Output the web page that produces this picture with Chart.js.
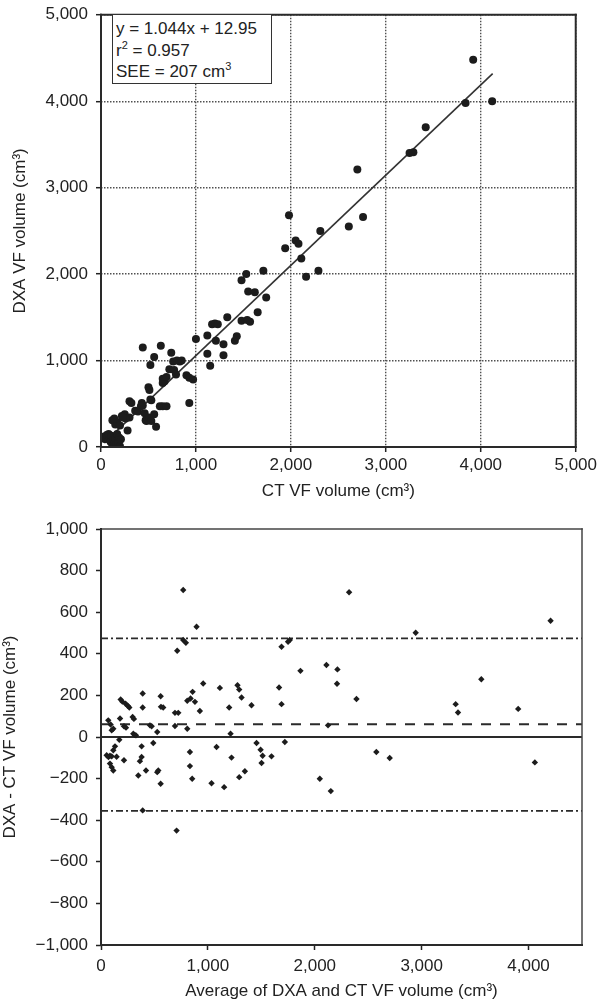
<!DOCTYPE html>
<html>
<head>
<meta charset="utf-8">
<script src="https://cdn.jsdelivr.net/npm/chart.js@4.4.1/dist/chart.umd.min.js"></script>
<style>
  html, body { margin: 0; padding: 0; background: #fff; }
  body { width: 600px; height: 1003px; position: relative; overflow: hidden; font-family: "Liberation Sans", Arial, sans-serif; }
  canvas { position: absolute; left: 0; }
  #top { top: 0; }
  #bottom { top: 500px; }
  #stats {
    position: absolute; left: 112px; top: 14px; width: 160px; height: 70px;
    box-sizing: border-box; border: 1.5px solid #333; background: #fff;
    font-size: 17px; line-height: 21.5px; color: #222; padding: 3px 0 0 3px;
  }
  #stats sup { font-size: 11px; line-height: 0; vertical-align: 7px; }
</style>
</head>
<body>
<canvas id="top" width="600" height="500"></canvas>
<canvas id="bottom" width="600" height="503"></canvas>
<div id="stats">y = 1.044x + 12.95<br>r<sup>2</sup> = 0.957<br>SEE = 207 cm<sup>3</sup></div>
<script>
// top panel: CT vs DXA visceral fat volume (cm3)
const ctVolume = [
  20, 40, 60, 80, 100, 110, 120, 130, 140, 150, 160, 170, 180, 190, 200, 210,
  120, 150, 170, 140, 200, 220, 250, 280, 300, 260, 230,
  300, 320, 360, 390, 420, 430, 440, 460, 470, 480, 510, 530, 560, 580, 500, 510, 530, 520,
  620, 650, 690, 440, 560, 630, 520, 650, 670, 650, 690,
  720, 770, 790, 740, 760, 800, 830, 850, 900, 930, 970, 930, 1000,
  1120, 1120, 1150, 1170, 1200, 1230, 1210, 1290, 1290, 1330, 1410, 1430, 1480, 1530,
  1480, 1540, 1570, 1550, 1620, 1650, 1710, 1740,
  1940, 1980, 2050, 2080, 2110, 2160, 2290, 2310, 2610, 2700, 2760, 3250, 3290, 3420,
  3840, 3920, 4120
];
const dxaVolume = [
  120, 90, 140, 150, 60, 130, 20, 80, 40, 100, 30, 150, 60, 110, 10, 90,
  310, 260, 290, 330, 250, 360, 380, 190, 340, 330, 340,
  530, 510, 420, 410, 470, 510, 480, 390, 310, 300, 340, 300, 380, 235, 690, 660, 540, 550,
  470, 470, 470, 1150, 1040, 1170, 950, 790, 760, 740, 810,
  900, 890, 840, 1090, 990, 1000, 990, 1000, 830, 800, 780, 510, 1250,
  1290, 1080, 940, 1420, 1430, 1420, 1230, 1190, 1060, 1500, 1230, 1280, 1930, 2000,
  1460, 1470, 1450, 1800, 1790, 1560, 2040, 1730,
  2300, 2680, 2390, 2350, 2180, 1970, 2040, 2500, 2550, 3210, 2660, 3400, 3410, 3700,
  3980, 4480, 4000
];
// regression line end points, as drawn
const fitCt = [35, 4125];
const fitDxa = [50, 4320];
const topTicks = [0, 1000, 2000, 3000, 4000, 5000];

// bottom panel: Bland-Altman
const avgVolume = [
  68, 90, 115, 100, 178, 215, 234, 184, 200, 230, 265, 250, 296, 308, 302, 315, 327,
  390, 390, 458, 474, 558, 561, 582, 526, 692, 723, 692, 807, 713, 769, 794, 769, 894,
  956, 857, 838, 807, 879, 925, 1112, 1199, 1212, 1277, 1293, 1315, 1408, 1666, 1689,
  1689, 1750, 1766, 1866, 2109, 2212, 2208, 2390, 2124, 2321, 2944, 4206, 3558, 3318,
  3340, 3903,
  53, 70, 84, 100, 115, 131, 146, 84, 100, 115, 171, 215, 349, 380, 380, 364, 421, 489,
  526, 536, 558, 390, 707, 832, 832, 853, 1034, 1152, 1081, 1221, 1293, 1346, 1455,
  1493, 1512, 1502, 1595, 1720, 2047, 2150, 2576, 2701, 4059
];
const diffVolume = [
  80, 60, 40, 32, 89, 52, 45, 180, 170, 160, 142, 150, 96, 87, 16, 10, 8,
  209, 142, 56, 52, 196, 145, 142, 24, 116, 116, 53, 40, 415, 466, 453, 707, 530,
  257, 217, 185, 174, 169, 125, 236, 142, 16, 249, 228, 190, 153, 238, 158,
  434, 458, 466, 318, 346, 325, 256, 183, 56, 696, 501, 559, 278, 158,
  118, 135,
  -88, -96, -90, -93, -64, -45, -95, -128, -145, -161, -13, -112, -185, -45, -96, -116, -161, -29,
  -169, -161, -225, -353, -450, -72, -140, -201, -222, -241, -48, -99, -193, -165, -29,
  -61, -90, -125, -93, -24, -201, -260, -72, -101, -122
];
const avgRange = [0, 4500];
const meanDiff = 61;
const loaUpper = 474;
const loaLower = -355;
const bottomXTicks = [0, 1000, 2000, 3000, 4000];

const ink = '#222';
const fam = '"Liberation Sans", Arial, sans-serif';
const tickFont = { family: fam, size: 17, lineHeight: 0.8 };
const xTickFont = { family: fam, size: 17, lineHeight: 1.2 };
const titleFont = { family: fam, size: 17, lineHeight: 1 };
const fmt = v => (v < 0 ? '\u2212' : '') + Math.abs(v).toLocaleString('en-US');

// draws the box round the plot area
const frame = {
  id: 'frame',
  afterDraw(chart, args, opts) {
    const { ctx, chartArea: a } = chart;
    ctx.save();
    ctx.lineCap = 'square';
    const side = (w, c, x1, y1, x2, y2) => {
      ctx.lineWidth = w; ctx.strokeStyle = c;
      ctx.beginPath(); ctx.moveTo(x1, y1); ctx.lineTo(x2, y2); ctx.stroke();
    };
    side(opts.outer, opts.outerColor, a.left, a.top, a.right, a.top);
    side(opts.outer, opts.outerColor, a.right, a.top, a.right, a.bottom);
    side(2, '#2a2a2a', a.left, a.top, a.left, a.bottom);
    side(2, '#2a2a2a', a.left, a.bottom, a.right, a.bottom);
    ctx.restore();
  }
};

Chart.defaults.animation = false;
Chart.defaults.color = ink;

new Chart(document.getElementById('top'), {
  type: 'scatter',
  data: {
    datasets: [
      {
        data: ctVolume.map((x, i) => ({ x, y: dxaVolume[i] })),
        pointStyle: 'circle', pointRadius: 4, backgroundColor: '#1c1c1c', borderWidth: 0, order: 0
      },
      {
        type: 'line',
        data: fitCt.map((x, i) => ({ x, y: fitDxa[i] })),
        borderColor: '#333', borderWidth: 1.6, pointRadius: 0, order: 1
      }
    ]
  },
  options: {
    responsive: false,
    devicePixelRatio: 1,
    layout: { padding: { top: 7, right: 24, bottom: 0, left: 0 } },
    plugins: { legend: { display: false }, tooltip: { enabled: false },
      frame: { outer: 2, outerColor: '#2a2a2a' } },
    scales: {
      x: {
        type: 'linear', min: 0, max: 5000,
        afterBuildTicks: s => { s.ticks = topTicks.map(value => ({ value })); },
        ticks: { font: xTickFont, color: ink, padding: 3, maxRotation: 0, callback: fmt },
        grid: { color: '#505050', lineWidth: 1.4, tickColor: ink, tickLength: 5, tickWidth: 1.5, tickBorderDash: [] },
        border: { display: false, dash: [1.5, 1.5] },
        title: { display: true, text: 'CT VF volume (cm\u00b3)', color: ink, font: titleFont, padding: { top: 0, bottom: 0 } },
        afterFit: s => { s.height = 53; }
      },
      y: {
        type: 'linear', min: 0, max: 5000,
        afterBuildTicks: s => { s.ticks = topTicks.map(value => ({ value })); },
        ticks: { font: tickFont, color: ink, padding: 8, callback: fmt },
        grid: { color: '#505050', lineWidth: 1.4, tickColor: ink, tickLength: 5, tickWidth: 1.5, tickBorderDash: [] },
        border: { display: false, dash: [1.5, 1.5] },
        title: { display: true, text: 'DXA VF volume (cm\u00b3)', color: ink, font: titleFont, padding: { top: 11.5, bottom: 0 } },
        afterFit: s => { s.width = 101; }
      }
    }
  },
  plugins: [frame]
});

const refLine = (y, dash, width) => ({
  type: 'line',
  data: avgRange.map(x => ({ x, y })),
  borderColor: '#2a2a2a', borderWidth: width, borderDash: dash, pointRadius: 0, order: 1
});

new Chart(document.getElementById('bottom'), {
  type: 'scatter',
  data: {
    datasets: [
      {
        data: avgVolume.map((x, i) => ({ x, y: diffVolume[i] })),
        pointStyle: 'rectRot', pointRadius: 3.2, backgroundColor: '#1c1c1c', borderWidth: 0, order: 0
      },
      refLine(0, [], 2),
      refLine(meanDiff, [10, 9], 2),
      refLine(loaUpper, [7, 3, 2, 3], 1.8),
      refLine(loaLower, [7, 3, 2, 3], 1.8)
    ]
  },
  options: {
    responsive: false,
    devicePixelRatio: 1,
    layout: { padding: { top: 29, right: 18, bottom: 0, left: 0 } },
    plugins: { legend: { display: false }, tooltip: { enabled: false },
      frame: { outer: 1.5, outerColor: '#444' } },
    scales: {
      x: {
        type: 'linear', min: 0, max: 4500,
        afterBuildTicks: s => { s.ticks = bottomXTicks.map(value => ({ value })); },
        ticks: { font: xTickFont, color: ink, padding: 6, maxRotation: 0, callback: fmt },
        grid: { drawOnChartArea: false, tickColor: ink, tickLength: 5, tickWidth: 1.5 },
        border: { display: false },
        title: { display: true, text: 'Average of DXA and CT VF volume (cm\u00b3)', color: ink, font: titleFont, padding: { top: 0, bottom: 2.8 } },
        afterFit: s => { s.height = 58; }
      },
      y: {
        type: 'linear', min: -1000, max: 1000,
        ticks: { stepSize: 200, font: tickFont, color: ink, padding: 8, callback: fmt },
        grid: { drawOnChartArea: false, tickColor: ink, tickLength: 5, tickWidth: 1.5 },
        border: { display: false },
        title: { display: true, text: 'DXA - CT VF volume (cm\u00b3)', color: ink, font: titleFont, padding: { top: 1.5, bottom: 0 } },
        afterFit: s => { s.width = 101; }
      }
    }
  },
  plugins: [frame]
});
</script>
</body>
</html>
